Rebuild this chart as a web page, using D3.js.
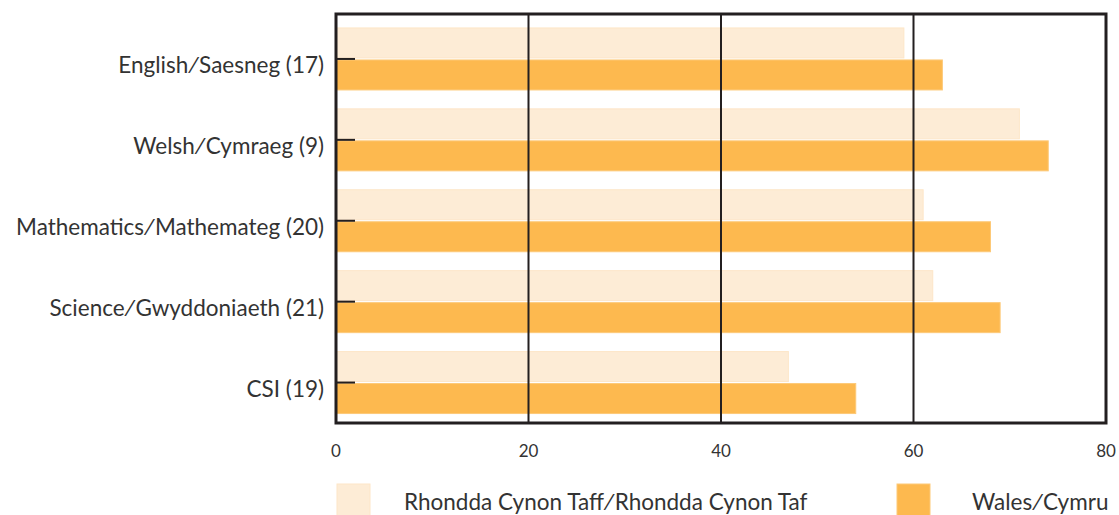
<!DOCTYPE html>
<html>
<head>
<meta charset="utf-8">
<script src="https://cdn.jsdelivr.net/npm/d3@7"></script>
<style>
  body { margin: 0; background: #fff; }
  text { font-family: Lato, "Open Sans", sans-serif; fill: #333; }
</style>
</head>
<body>
<div id="chart"></div>
<script>
// data
var subjects = [
  "English\u2215Saesneg (17)",
  "Welsh\u2215Cymraeg (9)",
  "Mathematics\u2215Mathemateg (20)",
  "Science\u2215Gwyddoniaeth (21)",
  "CSI (19)"
];
var rctValues = [59, 71, 61, 62, 47];
var walesValues = [63, 74, 68, 69, 54];
var seriesNames = ["Rhondda Cynon Taff\u2215Rhondda Cynon Taf", "Wales\u2215Cymru"];
var xTicks = [0, 20, 40, 60, 80];

var colors = ["#fdecd6", "#fdb94f"];
var strokes = ["#fde6c8", "#fdc978"];

var width = 1119, height = 515;
var plotLeft = 336, plotRight = 1106, plotTop = 14, plotBottom = 423;

var svg = d3.select("#chart")
  .append("svg")
  .attr("width", width)
  .attr("height", height);

var x = d3.scaleLinear().domain([0, 80]).range([plotLeft, plotRight]);
var y = d3.scaleBand().domain(subjects).range([18.5, plotBottom]);

var barH = 30;

// bars
var g = svg.append("g");
subjects.forEach(function (s, i) {
  var cy = y(s) + y.bandwidth() / 2;
  g.append("rect")
    .attr("x", x(0))
    .attr("y", cy - 1 - barH)
    .attr("width", x(rctValues[i]) - x(0))
    .attr("height", barH)
    .attr("fill", colors[0])
    .attr("stroke", strokes[0])
    .attr("stroke-width", 1);
  g.append("rect")
    .attr("x", x(0))
    .attr("y", cy + 1)
    .attr("width", x(walesValues[i]) - x(0))
    .attr("height", barH)
    .attr("fill", colors[1])
    .attr("stroke", strokes[1])
    .attr("stroke-width", 1);
});

// vertical gridlines
svg.append("g")
  .selectAll("line")
  .data(xTicks.slice(1, -1))
  .join("line")
  .attr("x1", function (d) { return x(d); })
  .attr("x2", function (d) { return x(d); })
  .attr("y1", plotTop)
  .attr("y2", plotBottom)
  .attr("stroke", "#231f20")
  .attr("stroke-width", 2);

// frame
svg.append("rect")
  .attr("x", plotLeft)
  .attr("y", plotTop)
  .attr("width", plotRight - plotLeft)
  .attr("height", plotBottom - plotTop)
  .attr("fill", "none")
  .attr("stroke", "#231f20")
  .attr("stroke-width", 3);

// category ticks, drawn inward
svg.append("g")
  .selectAll("line")
  .data(subjects)
  .join("line")
  .attr("x1", plotLeft)
  .attr("x2", plotLeft + 19)
  .attr("y1", function (d) { return y(d) + y.bandwidth() / 2; })
  .attr("y2", function (d) { return y(d) + y.bandwidth() / 2; })
  .attr("stroke", "#231f20")
  .attr("stroke-width", 2);

// category labels
svg.append("g")
  .selectAll("text")
  .data(subjects)
  .join("text")
  .attr("x", 324)
  .attr("y", function (d) { return y(d) + y.bandwidth() / 2 + 14; })
  .attr("text-anchor", "end")
  .attr("font-size", 22.5)
  .text(function (d) { return d; });

// x tick labels
svg.append("g")
  .selectAll("text")
  .data(xTicks)
  .join("text")
  .attr("x", function (d) { return x(d); })
  .attr("y", 457)
  .attr("text-anchor", "middle")
  .attr("font-size", 17)
  .text(function (d) { return d; });

// legend
var legX = [337, 897];
var legTextX = [404, 972];
var leg = svg.append("g");
seriesNames.forEach(function (n, i) {
  leg.append("rect")
    .attr("x", legX[i])
    .attr("y", 484)
    .attr("width", 33)
    .attr("height", 32)
    .attr("fill", colors[i])
    .attr("stroke", strokes[i]);
  leg.append("text")
    .attr("x", legTextX[i])
    .attr("y", 510)
    .attr("font-size", 22.5)
    .text(n);
});
</script>
</body>
</html>
